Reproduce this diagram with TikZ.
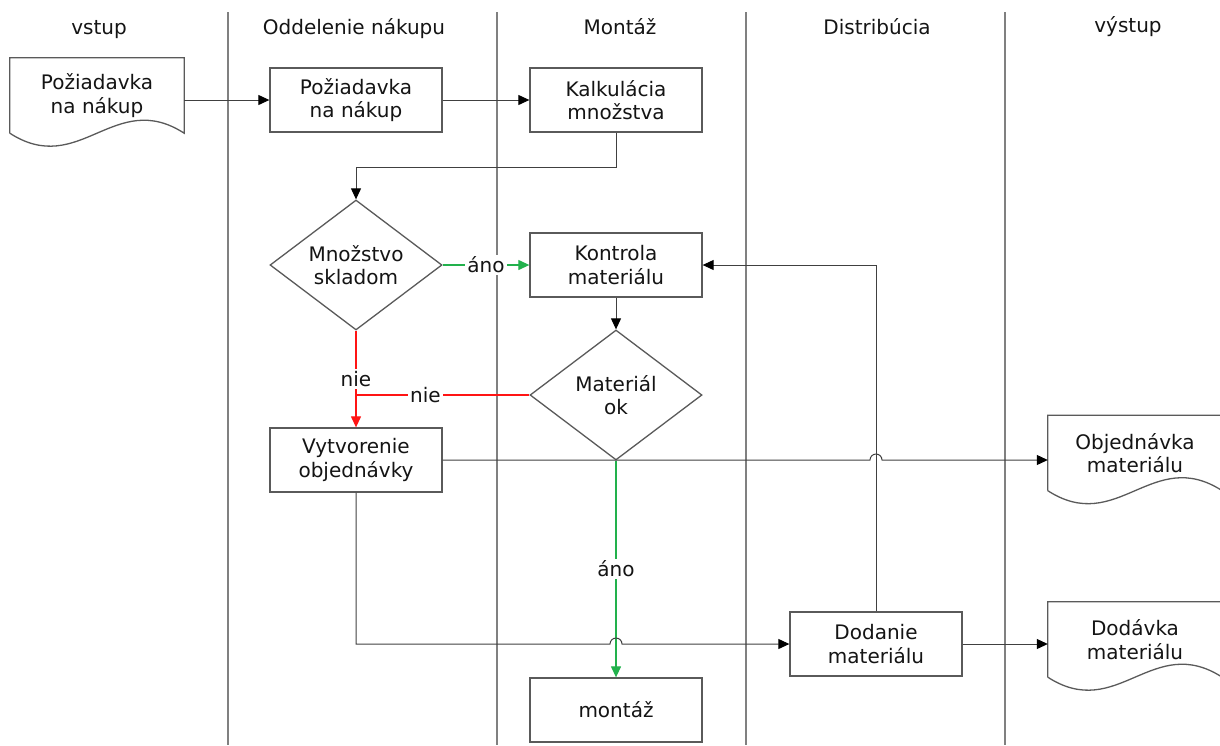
\documentclass[tikz,border=0pt]{standalone}
\usepackage{fontspec}
\setmainfont{DejaVu Sans}
\usetikzlibrary{arrows.meta,calc,shapes.geometric}
\definecolor{lanec}{RGB}{128,128,128}
\definecolor{boxc}{RGB}{90,90,90}
\definecolor{okgreen}{RGB}{34,177,76}
\definecolor{nored}{RGB}{255,20,20}
\newcommand\docoutline[1]{%
  \draw[docline] (#1.south west) -- (#1.north west) -- (#1.north east) -- (#1.south east)
    .. controls ($(#1.south west)!0.6!(#1.south east)+(0,-45)$) and ($(#1.south west)!0.4!(#1.south east)+(0,45)$) .. (#1.south west);}
\begin{document}
\begin{tikzpicture}[x=1pt,y=-1pt,
  every node/.style={font=\fontsize{20}{23.5}\selectfont, text=black!92},
  proc/.style={draw=boxc, line width=1.3pt, fill=white, minimum width=172pt, minimum height=64pt, align=center, inner sep=0pt},
  decision/.style={diamond, draw=boxc, line width=1.3pt, fill=white, minimum width=172pt, minimum height=130pt, aspect=1.32, align=center, inner sep=0pt},
  docnode/.style={minimum width=174pt, minimum height=75pt, align=center, inner sep=0pt},
  docline/.style={draw=boxc, line width=1.3pt},
  lane/.style={draw=lanec, line width=1.4pt},
  title/.style={anchor=base},
  lbl/.style={fill=white, inner sep=2pt},
  conn/.style={draw=black!75, line width=1pt, -{Triangle[length=11pt,width=10pt,color=black]}},
  gconn/.style={draw=okgreen, line width=1.2pt, -{Triangle[length=11pt,width=10pt]}},
  rline/.style={draw=nored, line width=1.2pt},
  rconn/.style={draw=nored, line width=1.2pt, -{Triangle[length=11pt,width=10pt]}}
]
\useasboundingbox (0,0) rectangle (1220,745);

% lanes
\draw[lane] (228,12) -- (228,745);
\draw[lane] (497,12) -- (497,745);
\draw[lane] (746,12) -- (746,745);
\draw[lane] (1005,12) -- (1005,745);

% titles
\node[title] (t1) at (99,34) {vstup};
\node[title] (t2) at (354,34) {Oddelenie nákupu};
\node[title] (t3) at (620,34) {Montáž};
\node[title] (t4) at (877,34) {Distribúcia};
\node[title] (t5) at (1128,32) {výstup};

% documents
\node[docnode] (doc1) at (97,95.5) {Požiadavka\\na nákup};
\docoutline{doc1}
\node[docnode] (doc2) at (1135,453) {Objednávka\\materiálu};
\docoutline{doc2}
\node[docnode] (doc3) at (1135,639.5) {Dodávka\\materiálu};
\docoutline{doc3}

% process boxes
\node[proc] (b1) at (356,100) {Požiadavka\\na nákup};
\node[proc] (b2) at (616,100) {Kalkulácia\\množstva};
\node[decision] (d1) at (356,265) {Množstvo\\skladom};
\node[proc] (b3) at (616,265) {Kontrola\\materiálu};
\node[decision] (d2) at (616,395) {Materiál\\ok};
\node[proc] (b4) at (356,460) {Vytvorenie\\objednávky};
\node[proc] (b5) at (876,644) {Dodanie\\materiálu};
\node[proc] (b6) at (616,710) {montáž};

% connectors
\draw[conn] (doc1.east |- b1.west) -- (b1.west);
\draw[conn] (b1.east) -- (b2.west);
\draw[conn] (b2.south) -- ++(0,35) -| (d1.north);
\draw[gconn] (d1.east) -- node[lbl]{áno} (b3.west);
\draw[conn] (b3.south) -- (d2.north);
\draw[rline] (d1.south) -- node[lbl,pos=0.75]{nie} (d1.south |- d2.west);
\draw[rline] (d2.west) -- node[lbl,pos=0.6]{nie} (d1.south |- d2.west);
\draw[rconn] (d1.south |- d2.west) -- (b4.north);
\draw[gconn] (d2.south) -- node[lbl]{áno} (b6.north);
\draw[conn] (b4.east) -- ($(b5.north |- b4.east)+(-6,0)$) arc[start angle=180,end angle=360,radius=6] -- (b4.east -| doc2.west);
\draw[conn] (b4.south) -- (b4.south |- b5.west) -- ($(b6.north |- b5.west)+(-6,0)$) arc[start angle=180,end angle=360,radius=6] -- (b5.west);
\draw[conn] (b5.north) |- (b3.east);
\draw[conn] (b5.east) -- (b5.east -| doc3.west);
\end{tikzpicture}
\end{document}
